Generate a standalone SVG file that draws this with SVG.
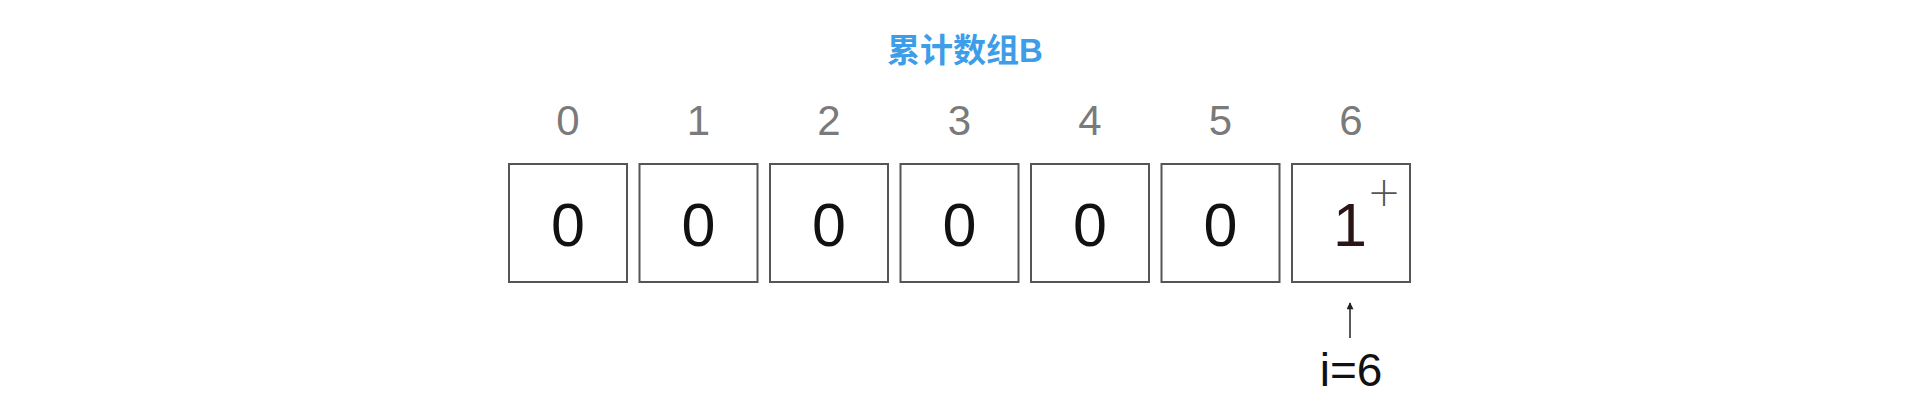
<svg xmlns="http://www.w3.org/2000/svg" width="1924" height="416" viewBox="0 0 1924 416">
<style>
.box{fill:#fff;stroke:#555;stroke-width:2}
.idx{font-family:"Liberation Sans",Arial,sans-serif;font-size:42px;fill:#7a7a7a;text-anchor:middle}
.val{font-family:"Liberation Sans",Arial,sans-serif;font-size:61px;fill:#111;text-anchor:middle}
.title{font-family:"Liberation Sans","Noto Sans CJK SC",sans-serif;font-size:33px;font-weight:bold;fill:#3d9de8;text-anchor:middle}
.lbl{font-family:"Liberation Sans",Arial,sans-serif;font-size:46px;fill:#111;text-anchor:middle}
</style>
<defs>
<marker id="ah" viewBox="0 0 10 10" refX="9" refY="5" markerWidth="9" markerHeight="7" orient="auto" markerUnits="userSpaceOnUse"><path d="M0 0 L10 5 L0 10 Z" fill="#222"/></marker>
</defs>
<rect width="1924" height="416" fill="#fff"/>
<text class="title" x="965" y="62">累计数组B</text>
<g id="cell0"><text class="idx" x="568" y="135">0</text><rect class="box" x="509" y="164" width="118" height="118"/><text class="val" x="568" y="246">0</text></g>
<g id="cell1"><text class="idx" x="698.5" y="135">1</text><rect class="box" x="639.5" y="164" width="118" height="118"/><text class="val" x="698.5" y="246">0</text></g>
<g id="cell2"><text class="idx" x="829" y="135">2</text><rect class="box" x="770" y="164" width="118" height="118"/><text class="val" x="829" y="246">0</text></g>
<g id="cell3"><text class="idx" x="959.5" y="135">3</text><rect class="box" x="900.5" y="164" width="118" height="118"/><text class="val" x="959.5" y="246">0</text></g>
<g id="cell4"><text class="idx" x="1090" y="135">4</text><rect class="box" x="1031" y="164" width="118" height="118"/><text class="val" x="1090" y="246">0</text></g>
<g id="cell5"><text class="idx" x="1220.5" y="135">5</text><rect class="box" x="1161.5" y="164" width="118" height="118"/><text class="val" x="1220.5" y="246">0</text></g>
<g id="cell6"><text class="idx" x="1351" y="135">6</text><rect class="box" x="1292" y="164" width="118" height="118"/><text class="val" x="1350" y="246" style="fill:#2a1414">1</text><text x="1384" y="206" font-family="DejaVu Sans,sans-serif" font-weight="200" font-size="40" fill="#555" text-anchor="middle">+</text></g>
<g id="connectors"><line x1="1350" y1="338" x2="1350" y2="303" stroke="#222" stroke-width="1.5" marker-end="url(#ah)"/></g>
<g id="pointer"><text class="lbl" x="1351" y="386">i=6</text></g>
</svg>
